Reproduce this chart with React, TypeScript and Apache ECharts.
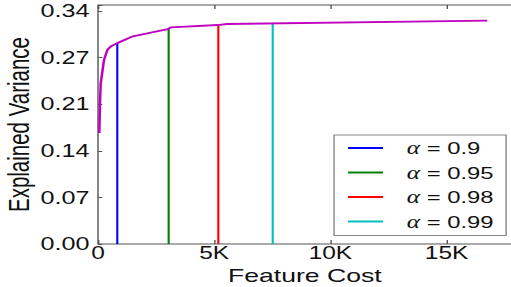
import React, { useEffect, useRef } from 'react';
import * as echarts from 'echarts';

// Magenta curve: feature cost vs explained variance
const costs = [56, 86, 116, 258, 400, 546, 830, 1500, 3000, 3120, 5150, 5550, 16750];
const variance = [0.163, 0.207, 0.236, 0.270, 0.285, 0.290, 0.295, 0.305, 0.3155, 0.318, 0.3216, 0.3231, 0.328];

// Vertical alpha markers
const alphaLabels = ['α = 0.9', 'α = 0.95', 'α = 0.98', 'α = 0.99'];
const alphaCosts = [830, 3040, 5177, 7517];
const alphaVariance = [0.295, 0.316, 0.3216, 0.3243];
const alphaColors = ['#0000ff', '#008000', '#ff0000', '#00bfbf'];

const xTickStep = 5000;
const yTickStep = 0.0684;

const STRETCH = 1.4;

export default function App() {
  const ref = useRef<HTMLDivElement>(null);
  useEffect(() => {
    if (!ref.current) return;
    const chart = echarts.init(ref.current, null, { renderer: 'svg' });
    const axisColor = '#555';
    const labelColor = '#111';
    const font = 'Liberation Sans, Arial, sans-serif';

    const series: any[] = alphaLabels.map((name, i) => ({
      name,
      type: 'line',
      symbol: 'none',
      data: [[alphaCosts[i], 0], [alphaCosts[i], alphaVariance[i]]],
      lineStyle: { color: alphaColors[i], width: 1.5 },
      itemStyle: { color: alphaColors[i] },
      xAxisIndex: 0,
      yAxisIndex: 0,
    }));
    series.push({
      name: 'curve',
      type: 'line',
      symbol: 'none',
      data: costs.map((c, i) => [c, variance[i]]),
      lineStyle: { color: '#bf00bf', width: 1.8 },
      itemStyle: { color: '#bf00bf' },
      xAxisIndex: 0,
      yAxisIndex: 0,
      z: 5,
    });

    const xFmt = (v: number) => {
      if (Math.abs(v % xTickStep) > 1e-6) return '';
      return v === 0 ? '0' : v / 1000 + 'K';
    };

    chart.setOption({
      animation: false,
      grid: {
        left: 70,
        right: -0.5,
        top: 5,
        bottom: 43,
        show: true,
        borderColor: axisColor,
        borderWidth: 1,
        backgroundColor: 'transparent',
        containLabel: false,
        outerBoundsMode: 'none',
      },
      legend: {
        data: alphaLabels,
        orient: 'vertical',
        left: 238.6,
        top: 135,
        icon: 'rect',
        itemWidth: 25,
        itemHeight: 2,
        itemGap: 4.5,
        padding: [3, 9, 4, 10],
        borderColor: '#888',
        borderWidth: 1,
        backgroundColor: '#fff',
        selectedMode: false,
        formatter: (name: string) => '{a|α}' + name.slice(1),
        textStyle: {
          fontFamily: font,
          fontSize: 17,
          color: labelColor,
          lineHeight: 20,
          rich: {
            a: {
              fontFamily: 'Liberation Serif, serif',
              fontStyle: 'italic',
              fontSize: 18,
              lineHeight: 20,
              color: labelColor,
              padding: [0, 0, 0, 12],
            },
          },
        },
      },
      xAxis: [
        {
          type: 'value',
          min: 0,
          max: 17800,
          interval: xTickStep,
          position: 'bottom',
          axisLine: { show: false },
          axisTick: { show: true, inside: true, length: 4, lineStyle: { color: axisColor } },
          axisLabel: {
            fontFamily: font,
            fontSize: 17.5,
            lineHeight: 14,
            color: labelColor,
            margin: 2,
            formatter: xFmt,
          },
          splitLine: { show: false },
          name: 'Feature Cost',
          nameLocation: 'middle',
          nameGap: 23,
          nameMoveOverlap: false,
          nameTextStyle: { fontFamily: font, fontSize: 19, lineHeight: 16, color: labelColor },
        },
        {
          type: 'value',
          min: 0,
          max: 17800,
          interval: xTickStep,
          position: 'top',
          axisLine: { show: false },
          axisTick: { show: true, inside: true, length: 4, lineStyle: { color: axisColor } },
          axisLabel: { show: false },
          splitLine: { show: false },
        },
      ],
      yAxis: {
        type: 'value',
        min: 0,
        max: 0.351,
        interval: yTickStep,
        axisLine: { show: false },
        axisTick: { show: true, inside: true, length: 3, lineStyle: { color: axisColor } },
        axisLabel: {
          fontFamily: font,
          fontSize: 18,
          color: labelColor,
          margin: 6,
          formatter: (v: number) => (v > 0.345 ? '' : v.toFixed(2)),
        },
        splitLine: { show: false },
        name: 'Explained Variance',
        nameLocation: 'middle',
        nameRotate: 90,
        nameGap: 46,
        nameMoveOverlap: false,
        nameTextStyle: { fontFamily: font, fontSize: 20.5, color: labelColor },
      },
      series,
    });
    return () => chart.dispose();
  }, []);

  return (
    <div style={{ position: 'absolute', left: 0, top: 0, width: 511, height: 287, overflow: 'hidden', background: '#fff' }}>
      <div
        ref={ref}
        style={{
          width: 511 / STRETCH,
          height: 287,
          transform: `scaleX(${STRETCH})`,
          transformOrigin: '0 0',
        }}
      />
    </div>
  );
}
